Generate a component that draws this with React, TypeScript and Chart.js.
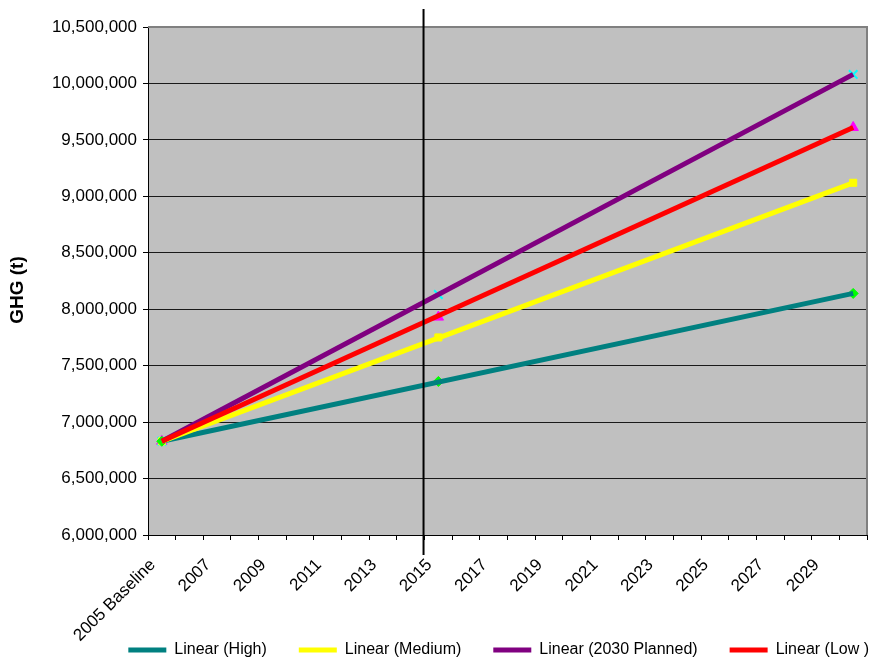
import React, { useEffect, useRef } from 'react';
import { Chart, registerables } from 'chart.js';

Chart.register(...registerables);

const categories = [
  '2005 Baseline', '2006', '2007', '2008', '2009', '2010', '2011', '2012', '2013', '2014',
  '2015', '2016', '2017', '2018', '2019', '2020', '2021', '2022', '2023', '2024',
  '2025', '2026', '2027', '2028', '2029', '2030',
];

const yTicks = [6000000, 6500000, 7000000, 7500000, 8000000, 8500000, 9000000, 9500000, 10000000, 10500000];

const yTitle = 'GHG (t)';

// Data points (2005 baseline, 2015, 2030)
const highPoints = [6830000, null, null, null, null, null, null, null, null, null, 7360000, null, null, null, null, null, null, null, null, null, null, null, null, null, null, 8140000];
const mediumPoints = [6830000, null, null, null, null, null, null, null, null, null, 7750000, null, null, null, null, null, null, null, null, null, null, null, null, null, null, 9120000];
const plannedPoints = [6830000, null, null, null, null, null, null, null, null, null, 8130000, null, null, null, null, null, null, null, null, null, null, null, null, null, null, 10080000];
const lowPoints = [6830000, null, null, null, null, null, null, null, null, null, 7930000, null, null, null, null, null, null, null, null, null, null, null, null, null, null, 9610000];

// Linear trend lines (start 2005, end 2030)
const highTrend = [6830000, null, null, null, null, null, null, null, null, null, null, null, null, null, null, null, null, null, null, null, null, null, null, null, null, 8140000];
const mediumTrend = [6830000, null, null, null, null, null, null, null, null, null, null, null, null, null, null, null, null, null, null, null, null, null, null, null, null, 9120000];
const plannedTrend = [6830000, null, null, null, null, null, null, null, null, null, null, null, null, null, null, null, null, null, null, null, null, null, null, null, null, 10080000];
const lowTrend = [6830000, null, null, null, null, null, null, null, null, null, null, null, null, null, null, null, null, null, null, null, null, null, null, null, null, 9610000];

const seriesNames = ['Linear (High)', 'Linear (Medium)', 'Linear (2030 Planned)', 'Linear (Low )'];
const FONT = "'Liberation Sans', Arial, sans-serif";

const bgPlugin = {
  id: 'plotBg',
  beforeDraw(chart: any) {
    const { ctx, chartArea } = chart;
    ctx.save();
    ctx.fillStyle = '#C0C0C0';
    ctx.fillRect(chartArea.left, chartArea.top, chartArea.right - chartArea.left, chartArea.bottom - chartArea.top);
    ctx.restore();
  },
  afterDatasetsDraw(chart: any) {
    const { ctx, chartArea } = chart;
    ctx.save();
    ctx.strokeStyle = '#808080';
    ctx.lineWidth = 2;
    ctx.beginPath();
    ctx.moveTo(chartArea.left, chartArea.top);
    ctx.lineTo(chartArea.right, chartArea.top);
    ctx.lineTo(chartArea.right, chartArea.bottom);
    ctx.stroke();
    ctx.restore();
  },
};

const layoutTweakPlugin = {
  id: 'layoutTweak',
  afterLayout(chart: any) {
    const lg = chart.legend;
    if (lg) {
      lg.left += 34;
      lg.right += 34;
    }
    // let rotated x labels extend down to the canvas bottom (avoid clipping)
    const xs = chart.scales.x;
    if (xs) {
      xs.bottom = chart.height;
      xs.height = xs.bottom - xs.top;
    }
  },
};

const dividerPlugin = {
  id: 'divider',
  afterDraw(chart: any) {
    const { ctx, scales, chartArea } = chart;
    const x = scales.x;
    const px = (x.getPixelForValue(9) + x.getPixelForValue(10)) / 2 - 1;
    ctx.save();
    ctx.strokeStyle = '#000000';
    ctx.lineWidth = 2;
    ctx.beginPath();
    ctx.moveTo(px, 9);
    ctx.lineTo(px, 555);
    ctx.stroke();
    // y axis title
    ctx.translate(18, (chartArea.top + chartArea.bottom) / 2 + 9);
    ctx.rotate(-Math.PI / 2);
    ctx.fillStyle = '#000000';
    ctx.font = `bold 19px ${FONT}`;
    ctx.textAlign = 'center';
    ctx.textBaseline = 'middle';
    ctx.fillText(yTitle, 0, 0);
    ctx.restore();
  },
};

export default function App() {
  const ref = useRef<HTMLCanvasElement>(null);

  useEffect(() => {
    if (!ref.current) return;
    Chart.defaults.font.family = FONT;
    const lineColors = ['#008080', '#FFFF00', '#800080', '#FF0000'];
    const trends = [highTrend, mediumTrend, plannedTrend, lowTrend];
    const points = [highPoints, mediumPoints, plannedPoints, lowPoints];
    const markerColors = ['#00FF00', '#FFFF00', '#00FFFF', '#FF00FF'];
    const markerStyles = ['rectRot', 'rect', 'crossRot', 'triangle'];
    const markerRadius = [5, 5, 6, 6];
    const lineOrders = [4, 3, 2, 1];

    const datasets: any[] = [];
    trends.forEach((d, i) => {
      datasets.push({
        label: seriesNames[i],
        data: d,
        borderColor: lineColors[i],
        backgroundColor: lineColors[i],
        borderWidth: 5,
        pointRadius: 0,
        pointHoverRadius: 0,
        spanGaps: true,
        tension: 0,
        order: lineOrders[i],
      });
    });
    points.forEach((d, i) => {
      datasets.push({
        label: 'pts' + i,
        data: d,
        showLine: false,
        pointStyle: markerStyles[i],
        pointRadius: markerRadius[i],
        pointHoverRadius: markerRadius[i],
        pointBackgroundColor: markerColors[i],
        pointBorderColor: markerColors[i],
        pointBorderWidth: markerStyles[i] === 'crossRot' ? 2 : 1,
        order: 10,
      });
    });

    const chart = new Chart(ref.current, {
      type: 'line',
      data: { labels: categories, datasets },
      options: {
        responsive: false,
        animation: false,
        events: [],
        layout: { padding: { left: 0, right: 9, top: 27, bottom: -8 } },
        plugins: {
          tooltip: { enabled: false },
          legend: {
            position: 'bottom',
            align: 'end',
            labels: {
              boxWidth: 38,
              boxHeight: 5,
              padding: 32,
              color: '#000000',
              font: { size: 16, family: FONT },
              filter: (item: any) => item.datasetIndex < 4,
              sort: (a: any, b: any) => a.datasetIndex - b.datasetIndex,
              generateLabels: (c: any) => {
                const items = (Chart.defaults.plugins.legend.labels as any).generateLabels(c);
                return items.map((it: any) => ({ ...it, lineWidth: 0 }));
              },
            },
          },
        },
        scales: {
          x: {
            type: 'category',
            offset: true,
            grid: {
              display: true,
              drawOnChartArea: false,
              drawTicks: true,
              tickLength: 5,
              offset: true,
              color: '#000000',
            },
            border: { display: true, color: '#000000', width: 1 },
            ticks: {
              autoSkip: false,
              maxRotation: 45,
              minRotation: 45,
              padding: 15,
              labelOffset: -9,
              color: '#000000',
              font: { size: 17, family: FONT },
              callback: (_v: any, i: number) => (i % 2 === 0 ? categories[i] : ''),
            },
            afterFit: (s: any) => {
              s.height = 75;
              s.paddingLeft = 0;
              s.paddingRight = 0;
            },
          },
          y: {
            min: yTicks[0],
            max: yTicks[yTicks.length - 1],
            afterBuildTicks: (s: any) => {
              s.ticks = yTicks.map((v) => ({ value: v }));
            },
            grid: {
              color: '#1a1a1a',
              lineWidth: 1,
              drawTicks: true,
              tickLength: 5,
              tickColor: '#000000',
            },
            border: { display: true, color: '#000000', width: 1 },
            ticks: {
              padding: 6,
              color: '#000000',
              font: { size: 17, family: FONT },
              callback: (v: any) => Number(v).toLocaleString('en-US'),
            },
            title: { display: false },
            afterFit: (s: any) => {
              s.width = 148;
            },
          },
        },
      },
      plugins: [bgPlugin, dividerPlugin, layoutTweakPlugin],
    } as any);

    return () => chart.destroy();
  }, []);

  return (
    <div style={{ position: 'fixed', left: 0, top: 0, width: 876, height: 660 }}>
      <canvas ref={ref} width={876} height={660} style={{ display: 'block', width: 876, height: 660 }} />
    </div>
  );
}
